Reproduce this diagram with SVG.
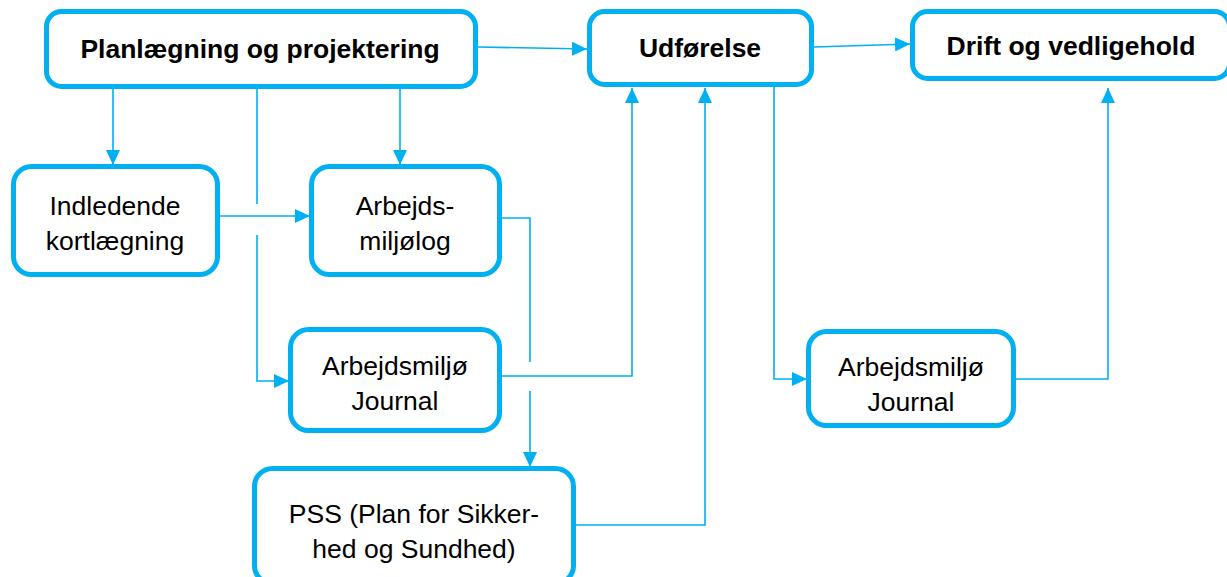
<svg xmlns="http://www.w3.org/2000/svg" width="1227" height="577" viewBox="0 0 1227 577">
<style>
.box{fill:#fff;stroke:#00B0F0;stroke-width:5}
.t{font-family:"Liberation Sans",Arial,sans-serif;font-size:26.5px;fill:#000;text-anchor:middle}
.b{font-weight:bold}
.c{fill:none;stroke:#00B0F0;stroke-width:1.6}
</style>
<defs>
<marker id="ah" markerUnits="userSpaceOnUse" markerWidth="15" markerHeight="14" refX="15" refY="7" orient="auto" viewBox="0 0 15 14">
<path d="M0,0 L15,7 L0,14 z" fill="#00B0F0"/>
</marker>
</defs>
<rect width="1227" height="577" fill="#fff"/>
<g id="connectors">
<path class="c" d="M478 47 L587 49" marker-end="url(#ah)"/>
<path class="c" d="M814 47 L910 44" marker-end="url(#ah)"/>
<path class="c" d="M113 89 V165" marker-end="url(#ah)"/>
<path class="c" d="M400 89 V165" marker-end="url(#ah)"/>
<path class="c" d="M257 89 V204"/>
<path class="c" d="M257 235 V381 H289" marker-end="url(#ah)"/>
<path class="c" d="M220 216 H310" marker-end="url(#ah)"/>
<path class="c" d="M502 218 H530 V362"/>
<path class="c" d="M530 391 V467" marker-end="url(#ah)"/>
<path class="c" d="M502 376 H632 V88" marker-end="url(#ah)"/>
<path class="c" d="M576 525 H705 V88" marker-end="url(#ah)"/>
<path class="c" d="M774 87 V379 H807" marker-end="url(#ah)"/>
<path class="c" d="M1016 379 H1108 V88" marker-end="url(#ah)"/>
</g>
<g id="planlaegning">
<rect class="box" x="46.5" y="11.5" width="429" height="75" rx="15"/>
<text class="t b" x="260" y="58">Planlægning og projektering</text>
</g>
<g id="udfoerelse">
<rect class="box" x="589.5" y="11.5" width="222" height="73" rx="15"/>
<text class="t b" x="700" y="57">Udførelse</text>
</g>
<g id="drift">
<rect class="box" x="912.5" y="11.5" width="317" height="67" rx="15"/>
<text class="t b" x="1071" y="55">Drift og vedligehold</text>
</g>
<g id="indledende">
<rect class="box" x="13.5" y="166.5" width="204" height="108" rx="18"/>
<text class="t" x="115" y="215">Indledende</text>
<text class="t" x="115" y="250">kortlægning</text>
</g>
<g id="arbejdsmiljolog">
<rect class="box" x="311.5" y="166.5" width="188" height="108" rx="18"/>
<text class="t" x="405" y="215">Arbejds-</text>
<text class="t" x="405" y="250">miljølog</text>
</g>
<g id="journal1">
<rect class="box" x="290.5" y="329.5" width="209" height="101" rx="18"/>
<text class="t" x="395" y="375">Arbejdsmiljø</text>
<text class="t" x="395" y="410">Journal</text>
</g>
<g id="pss">
<rect class="box" x="254.5" y="468.5" width="319" height="115" rx="18"/>
<text class="t" x="414" y="523">PSS (Plan for Sikker-</text>
<text class="t" x="414" y="558">hed og Sundhed)</text>
</g>
<g id="journal2">
<rect class="box" x="808.5" y="331.5" width="205" height="94" rx="18"/>
<text class="t" x="911" y="376">Arbejdsmiljø</text>
<text class="t" x="911" y="411">Journal</text>
</g>
</svg>
